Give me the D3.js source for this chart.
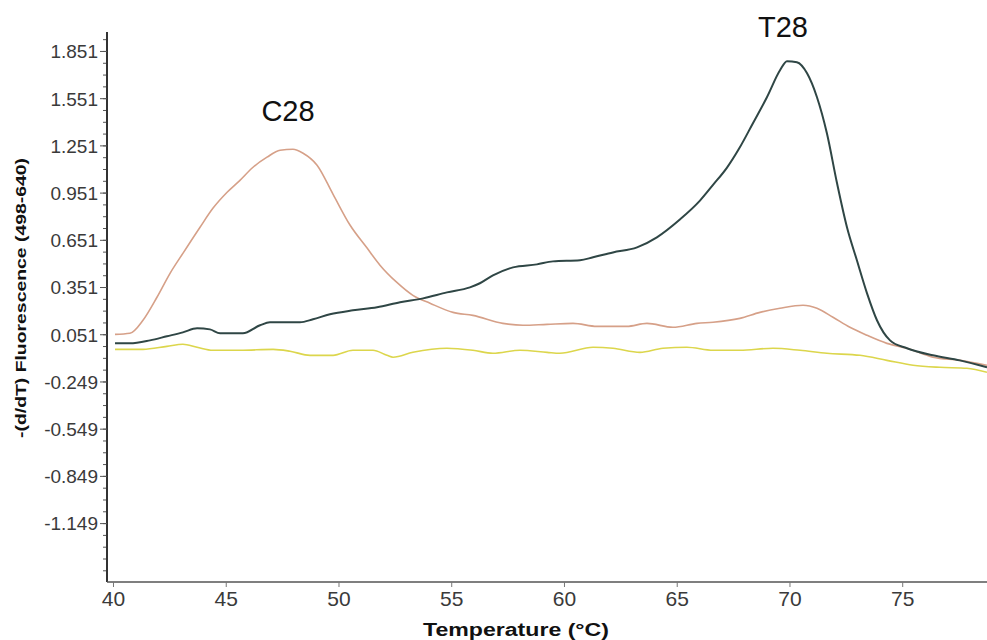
<!DOCTYPE html>
<html>
<head>
<meta charset="utf-8">
<script src="https://cdn.jsdelivr.net/npm/d3@7"></script>
<style>
  html, body { margin: 0; padding: 0; background: #fff; }
  svg { display: block; }
</style>
</head>
<body>
<svg id="chart" width="987" height="640"></svg>
<script>
// ---- Data ----
const yTickValues = [1.851, 1.551, 1.251, 0.951, 0.651, 0.351, 0.051, -0.249, -0.549, -0.849, -1.149];
const xTickValues = [40, 45, 50, 55, 60, 65, 70, 75];

// C28 (orange / tan curve): [temperature, -(d/dT) fluorescence]
const c28 = [
  [40.09,0.050],[40.75,0.057],[41.33,0.140],[41.95,0.286],[42.53,0.438],[43.10,0.565],
  [43.86,0.731],[44.43,0.851],[45.06,0.953],[45.63,1.029],[46.21,1.112],[46.83,1.176],
  [47.41,1.220],[47.98,1.226],[48.43,1.201],[49.05,1.125],[49.76,0.940],[50.51,0.745],
  [51.26,0.600],[51.84,0.490],[52.59,0.380],[53.30,0.298],[54.06,0.248],[55.08,0.190],
  [55.96,0.171],[57.29,0.120],[58.18,0.108],[59.25,0.114],[60.40,0.120],[61.46,0.101],
  [62.79,0.101],[63.68,0.120],[64.83,0.095],[65.90,0.120],[66.61,0.127],[67.80,0.152],
  [68.69,0.190],[69.58,0.216],[70.60,0.235],[71.22,0.216],[71.93,0.159],[72.68,0.095],
  [73.44,0.044],[74.32,-0.007],[75.21,-0.038],[76.36,-0.095],[77.56,-0.115],[78.76,-0.146]
];

// T28 (dark curve)
const t28 = [
  [40.09,-0.007],[40.75,-0.007],[41.64,0.012],[42.39,0.038],[43.10,0.063],[43.73,0.089],
  [44.30,0.082],[44.75,0.057],[45.76,0.057],[46.52,0.108],[46.96,0.127],[48.29,0.127],
  [48.87,0.146],[49.62,0.178],[50.64,0.203],[51.71,0.222],[52.73,0.254],[53.75,0.279],
  [54.81,0.317],[55.83,0.349],[56.27,0.375],[56.85,0.425],[57.74,0.476],[58.80,0.495],
  [59.51,0.514],[60.71,0.521],[61.29,0.540],[62.17,0.571],[63.24,0.603],[64.12,0.667],
  [65.14,0.780],[66.03,0.900],[66.61,1.000],[67.23,1.110],[67.80,1.239],[68.38,1.392],
  [69.00,1.557],[69.58,1.728],[69.89,1.786],[70.33,1.779],[70.78,1.709],[71.22,1.557],
  [71.66,1.328],[72.11,1.010],[72.55,0.731],[72.99,0.521],[73.44,0.311],[73.88,0.140],
  [74.46,0.012],[75.21,-0.038],[76.36,-0.083],[77.56,-0.115],[78.76,-0.159]
];

// Baseline (yellow curve)
const blank = [
  [40.09,-0.045],[41.33,-0.045],[42.39,-0.026],[43.10,-0.013],[43.73,-0.032],[44.43,-0.051],
  [45.63,-0.051],[47.10,-0.045],[47.85,-0.057],[48.74,-0.083],[49.76,-0.083],[50.64,-0.051],
  [51.53,-0.051],[52.15,-0.083],[52.42,-0.095],[53.30,-0.064],[54.81,-0.038],[55.96,-0.051],
  [56.85,-0.070],[58.05,-0.051],[59.25,-0.064],[59.82,-0.070],[61.29,-0.032],[62.17,-0.038],
  [63.37,-0.064],[64.39,-0.038],[65.45,-0.032],[66.61,-0.051],[67.80,-0.051],[69.27,-0.038],
  [70.47,-0.051],[71.66,-0.070],[73.13,-0.083],[74.32,-0.115],[75.48,-0.146],[76.67,-0.159],
  [77.87,-0.165],[78.76,-0.191]
];

const seriesNames = ["C28", "T28", "blank"];
const seriesColors = ["#d6a088", "#2f4645", "#dcd64c"];

// ---- Layout ----
const svg = d3.select("#chart");
const mLeft = 107, mRight = 987, mTop = 32, mBottom = 582;

const x = d3.scaleLinear().domain([39.734, 78.76]).range([mLeft, mRight]);
const y = d3.scaleLinear().domain([-1.5233, 1.9715]).range([mBottom, mTop]);

// Minor y ticks every 0.075
const minorVals = [];
for (let k = -6; k <= 48; k++) {
  const v = -1.149 + k * 0.075;
  if (v >= -1.5233 && v <= 1.9715) minorVals.push(+v.toFixed(3));
}

const fmtY = d => d.toFixed(3);   // plain hyphen-minus, as in the reference

// Y axis
const yAxis = d3.axisLeft(y).tickValues(yTickValues).tickFormat(fmtY)
  .tickSize(7).tickPadding(2);
const yMinor = d3.axisLeft(y).tickValues(minorVals).tickSize(4).tickFormat("");

const gyMinor = svg.append("g").attr("transform", `translate(${mLeft},0)`).call(yMinor);
gyMinor.select(".domain").remove();
gyMinor.selectAll("line").attr("stroke", "#555").attr("stroke-width", 1);

const gy = svg.append("g").attr("transform", `translate(${mLeft},0)`).call(yAxis);
gy.select(".domain").attr("stroke", "#333").attr("stroke-width", 2).attr("d", `M0,${mTop}V${mBottom}`);
gy.selectAll(".tick line").attr("stroke", "#555").attr("stroke-width", 1);
gy.selectAll(".tick text")
  .attr("font-family", "Liberation Sans, Arial, sans-serif")
  .attr("font-size", 19).attr("fill", "#3a3a3a")
  .attr("dy", "0.36em");

// X axis
const xAxis = d3.axisBottom(x).tickValues(xTickValues).tickFormat(d => String(d))
  .tickSize(5).tickPadding(4);
const gx = svg.append("g").attr("transform", `translate(0,${mBottom})`).call(xAxis);
gx.select(".domain").attr("stroke", "#555").attr("stroke-width", 1.5).attr("d", `M${mLeft},0H${mRight}`);
gx.selectAll(".tick line").attr("stroke", "#777").attr("stroke-width", 1);
gx.selectAll(".tick text")
  .attr("font-family", "Liberation Sans, Arial, sans-serif")
  .attr("font-size", 21).attr("fill", "#3a3a3a");

// Axis titles
svg.append("text")
  .attr("x", 516).attr("y", 636)
  .attr("text-anchor", "middle")
  .attr("font-family", "Liberation Sans, Arial, sans-serif")
  .attr("font-weight", "bold").attr("font-size", 18).attr("fill", "#111")
  .attr("textLength", 186).attr("lengthAdjust", "spacingAndGlyphs")
  .text("Temperature (°C)");

svg.append("text")
  .attr("transform", "translate(26,298) rotate(-90)")
  .attr("text-anchor", "middle")
  .attr("font-family", "Liberation Sans, Arial, sans-serif")
  .attr("font-weight", "bold").attr("font-size", 15).attr("fill", "#111")
  .attr("textLength", 280).attr("lengthAdjust", "spacingAndGlyphs")
  .text("-(d/dT) Fluorescence (498-640)");

// Curves
const line = d3.line().x(d => x(d[0])).y(d => y(d[1])).curve(d3.curveMonotoneX);
const allSeries = [c28, t28, blank];
const widths = [1.6, 2, 1.6];
[2, 0, 1].forEach(i => {
  svg.append("path")
    .datum(allSeries[i])
    .attr("d", line)
    .attr("fill", "none")
    .attr("stroke", seriesColors[i])
    .attr("stroke-width", widths[i])
    .attr("stroke-linejoin", "round");
});

// Peak labels
svg.append("text")
  .attr("x", 288).attr("y", 121).attr("text-anchor", "middle")
  .attr("font-family", "Liberation Sans, Arial, sans-serif")
  .attr("font-size", 29).attr("fill", "#111")
  .text(seriesNames[0]);
svg.append("text")
  .attr("x", 783).attr("y", 37).attr("text-anchor", "middle")
  .attr("font-family", "Liberation Sans, Arial, sans-serif")
  .attr("font-size", 29).attr("fill", "#111")
  .text(seriesNames[1]);
</script>
</body>
</html>
